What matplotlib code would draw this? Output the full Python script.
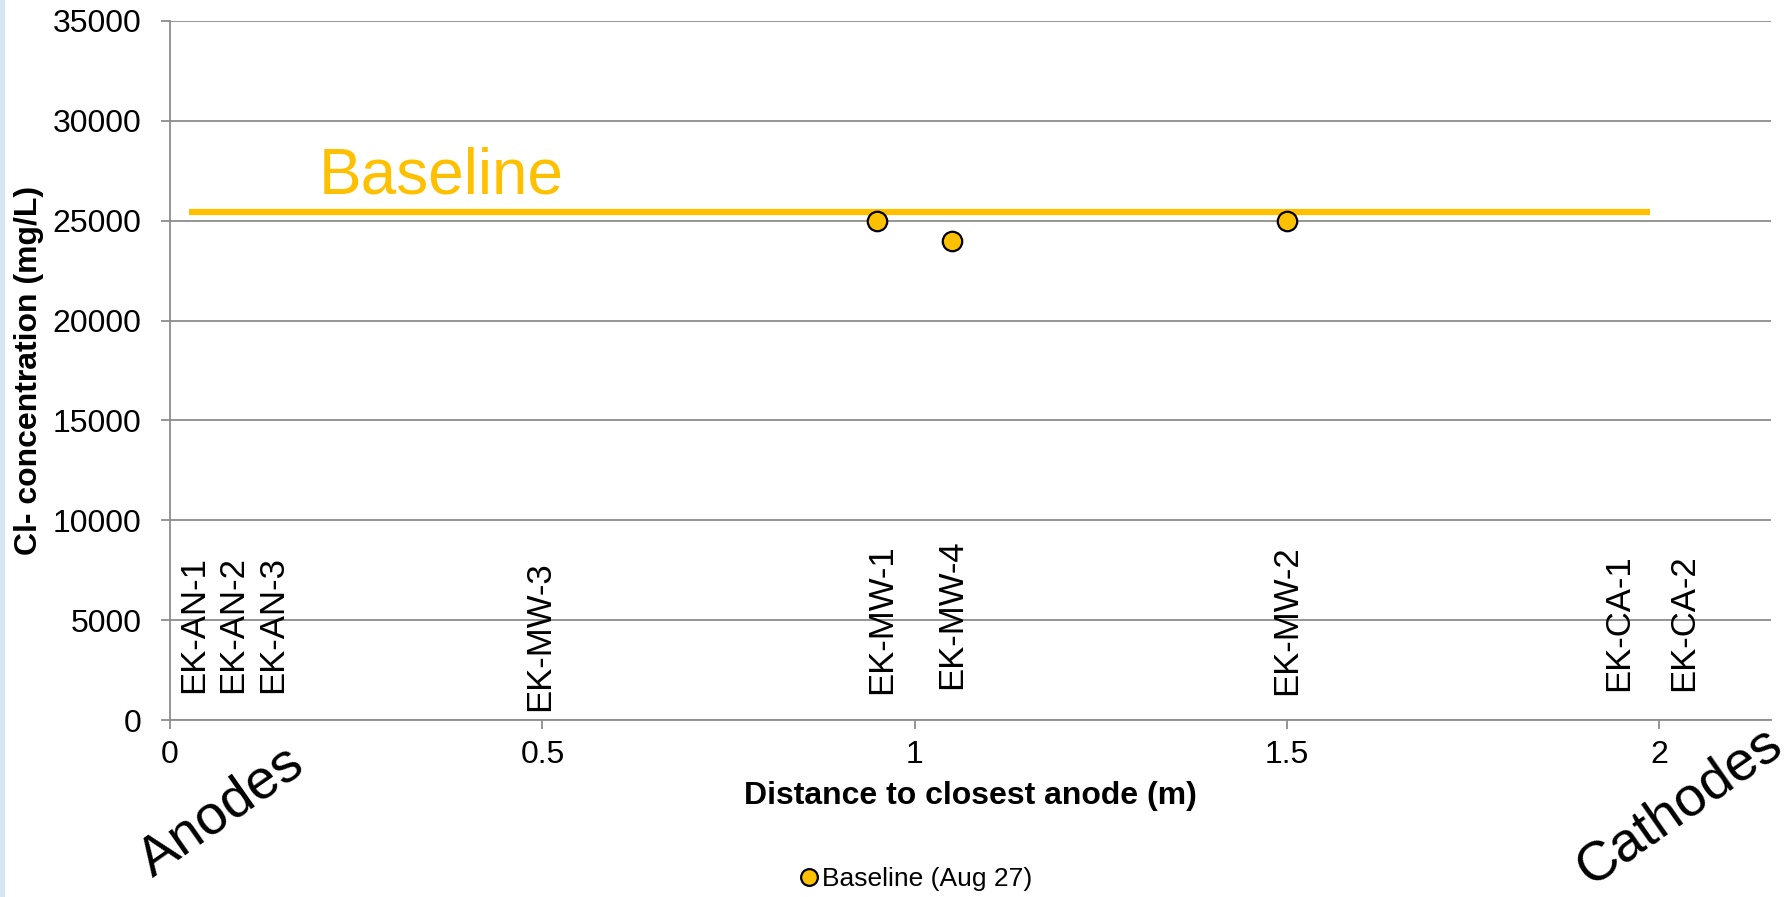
import matplotlib
matplotlib.use("Agg")
from matplotlib import pyplot as plt
from matplotlib.patches import Rectangle

plt.rcParams["font.family"] = ["Liberation Sans", "DejaVu Sans"]

GOLD = "#FFC000"
GRID = "#8c8c8c"

# measured chloride, baseline sampling (Aug 27)
distance = [0.95, 1.05, 1.5]
chloride = [25000, 24000, 25000]

baseline_level = 25450
baseline_span = [0.026, 1.988]

# well / electrode labels along the transect
well_names = ["EK-AN-1", "EK-AN-2", "EK-AN-3", "EK-MW-3", "EK-MW-1",
              "EK-MW-4", "EK-MW-2", "EK-CA-1", "EK-CA-2"]
well_x = [0.032, 0.084, 0.138, 0.496, 0.955, 1.05, 1.50, 1.945, 2.032]
well_y = [1350, 1350, 1350, 450, 1300, 1550, 1250, 1450, 1450]

yticks = [0, 5000, 10000, 15000, 20000, 25000, 30000, 35000]
xticks = [0, 0.5, 1, 1.5, 2]
xtick_labels = ["0", "0.5", "1", "1.5", "2"]

fig = plt.figure(figsize=(17.92, 8.97), dpi=100)
fig.patches.append(Rectangle((0, 0), 0.002, 1, transform=fig.transFigure,
                             color="#d5e6f0", zorder=0))
ax = fig.add_axes([0.0949, 0.1973, 0.8934, 0.7793])

ax.set_xlim(0, 2.15)
ax.set_ylim(0, 35000)
ax.set_yticks(yticks)
ax.set_xticks(xticks)
ax.set_xticklabels(xtick_labels)
ax.grid(axis="y", color=GRID, linewidth=1.3)
ax.set_axisbelow(True)
for side in ["top", "right"]:
    ax.spines[side].set_visible(False)
for side in ["left", "bottom"]:
    ax.spines[side].set_color(GRID)
    ax.spines[side].set_linewidth(1.3)
ax.tick_params(axis="both", direction="out", length=6.5, width=1.3,
               color=GRID, labelsize=23)
ax.tick_params(axis="x", pad=8)
ax.tick_params(axis="y", pad=14)

ax.plot(baseline_span, [baseline_level, baseline_level], color=GOLD,
        linewidth=4.5, solid_capstyle="butt")
ax.text(0.2, 26350, "Baseline", color=GOLD, fontsize=46,
        ha="left", va="baseline")

ax.plot(distance, chloride, linestyle="none", marker="o", markersize=14,
        markerfacecolor=GOLD, markeredgecolor="black", markeredgewidth=1.6,
        label="Baseline (Aug 27)", zorder=5)

for name, x, y in zip(well_names, well_x, well_y):
    ax.text(x, y, name, rotation=90, fontsize=25, ha="center", va="bottom")

ax.set_xlabel("Distance to closest anode (m)", fontsize=23,
              fontweight="bold", labelpad=8)
ax.set_ylabel("Cl- concentration (mg/L)", fontsize=23, fontweight="bold",
              labelpad=6)

fig.text(222 / 1792, 1 - 812 / 897, "Anodes", fontsize=40, rotation=35,
         ha="center", va="center")
fig.text(1679 / 1792, 1 - 807 / 897, "Cathodes", fontsize=40, rotation=35,
         ha="center", va="center")

fig.legend(loc="center", bbox_to_anchor=(915 / 1792, 1 - 879 / 897),
           frameon=False, fontsize=19, handlelength=0.8, handletextpad=0.1,
           markerscale=0.86, borderaxespad=0)

fig.savefig("out.png", dpi=100)
